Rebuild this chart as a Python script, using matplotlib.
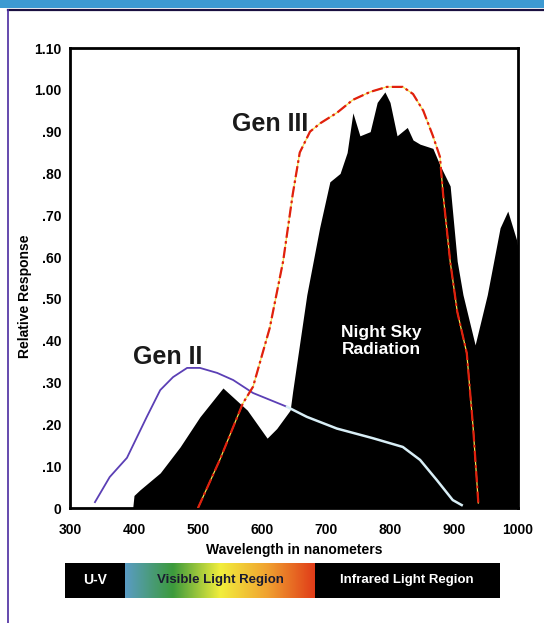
import matplotlib
matplotlib.use("Agg")
import matplotlib.pyplot as plt
import numpy as np
from matplotlib.colors import LinearSegmentedColormap

# ---- data ----
sky_nm = [398, 400, 409, 441, 472, 503, 539, 577, 608, 623, 644, 648, 670, 690, 706, 722,
          733, 742, 753, 769, 780, 792, 800, 811, 827, 836, 847, 867, 878, 894, 905, 914,
          933, 952, 972, 984, 998, 1000]
sky_val = [0.0, 0.03, 0.043, 0.084, 0.146, 0.218, 0.287, 0.234, 0.167, 0.19, 0.234, 0.28,
           0.51, 0.67, 0.78, 0.80, 0.85, 0.945, 0.89, 0.90, 0.97, 0.995, 0.97, 0.89, 0.91,
           0.88, 0.87, 0.86, 0.82, 0.77, 0.59, 0.51, 0.39, 0.51, 0.67, 0.71, 0.64, 0.62]

gen2_nm = [339, 362, 389, 420, 441, 461, 483, 503, 530, 555, 586, 639, 670, 717, 773, 820,
           847, 873, 898, 912]
gen2_val = [0.014, 0.074, 0.12, 0.218, 0.282, 0.313, 0.335, 0.335, 0.323, 0.306, 0.275,
            0.242, 0.218, 0.19, 0.167, 0.146, 0.115, 0.067, 0.019, 0.007]
gen2_split = 11  # index where the curve passes over the dark region

gen3_nm = [500, 534, 570, 586, 612, 633, 648, 659, 675, 691, 717, 742, 769, 795, 820, 836,
           852, 867, 878, 883, 894, 905, 920, 930, 938]
gen3_val = [0.0, 0.115, 0.25, 0.29, 0.43, 0.59, 0.75, 0.85, 0.90, 0.92, 0.945, 0.976, 0.995,
            1.007, 1.007, 0.99, 0.95, 0.89, 0.84, 0.75, 0.59, 0.47, 0.37, 0.19, 0.012]

xticks = [300, 400, 500, 600, 700, 800, 900, 1000]
yticks = [0, 0.1, 0.2, 0.3, 0.4, 0.5, 0.6, 0.7, 0.8, 0.9, 1.0, 1.1]
ytick_labels = ["0", ".10", ".20", ".30", ".40", ".50", ".60", ".70", ".80", ".90", "1.00", "1.10"]

bands = ["U-V", "Visible Light Region", "Infrared Light Region"]

plt.rcParams['font.family'] = ['Liberation Sans', 'DejaVu Sans']

W, H = 544, 623
fig = plt.figure(figsize=(W / 100, H / 100), dpi=100)
fig.patch.set_facecolor('white')

# outer frame decorations
fig.add_artist(plt.Rectangle((0, 1 - 8 / H), 1, 8 / H, transform=fig.transFigure,
                             color='#3d9ad2', lw=0))
fig.add_artist(plt.Line2D([8 / W, 1], [1 - 10 / H, 1 - 10 / H], transform=fig.transFigure,
                          color='#1a1040', lw=1.6))
fig.add_artist(plt.Line2D([8 / W, 8 / W], [0, 1 - 10 / H], transform=fig.transFigure,
                          color='#4a2aa0', lw=1.2))

ax = fig.add_axes([70 / W, 1 - 508 / H, (518 - 70) / W, (508 - 48) / H])
ax.set_xlim(300, 1000)
ax.set_ylim(0, 1.10)

ax.fill_between(sky_nm, 0, sky_val, color='black', lw=0, zorder=2)

# Gen II
ax.plot(gen2_nm[:gen2_split + 1], gen2_val[:gen2_split + 1], color='#5b3fb5', lw=1.3, zorder=3)
ax.plot(gen2_nm[gen2_split:], gen2_val[gen2_split:], color='#d8eef6', lw=1.8, zorder=3)

# Gen III
ax.plot(gen3_nm, gen3_val, color='#f4e04a', lw=0.9, zorder=3)
ax.plot(gen3_nm, gen3_val, color='#e0200e', lw=1.6, ls=(0, (5, 1.5, 1.2, 1.5)), zorder=4)

ax.text(612, 0.918, "Gen III", fontsize=18, fontweight='bold', color='#1a1a1a',
        ha='center', va='center', zorder=5)
ax.text(452, 0.361, "Gen II", fontsize=18, fontweight='bold', color='#1a1a1a',
        ha='center', va='center', zorder=5)
ax.text(787, 0.40, "Night Sky\nRadiation", fontsize=12.5, fontweight='bold', color='white',
        ha='center', va='center', linespacing=1.15, zorder=5)

ax.set_xticks(xticks)
ax.set_xticklabels([str(v) for v in xticks], fontsize=10, fontweight='bold')
ax.set_yticks(yticks)
ax.set_yticklabels(ytick_labels, fontsize=10, fontweight='bold')
ax.tick_params(axis='y', length=0, pad=6)
ax.tick_params(axis='x', length=0, pad=11)
for s in ax.spines.values():
    s.set_linewidth(2)
    s.set_color('black')
ax.set_xlabel("Wavelength in nanometers", fontsize=10, fontweight='bold', labelpad=4)
ax.set_ylabel("Relative Response", fontsize=10, fontweight='bold')
ax.yaxis.set_label_coords(-0.085, 0.46)

# spectrum band bar
bax = fig.add_axes([65 / W, 1 - 598 / H, (500 - 65) / W, 35 / H])
bax.axis('off')
bax.add_patch(plt.Rectangle((0, 0), 60, 1, color='black', lw=0))
cmap = LinearSegmentedColormap.from_list('vis', ['#5a9cc4', '#3c9a3c', '#f2ee3c', '#f0a030', '#e03a18'])
grad = np.linspace(0, 1, 256).reshape(1, -1)
bax.imshow(grad, extent=(60, 250, 0, 1), aspect='auto', cmap=cmap, zorder=1)
bax.add_patch(plt.Rectangle((250, 0), 185, 1, color='black', lw=0))
bax.set_xlim(0, 435)
bax.set_ylim(0, 1)
bax.text(30, 0.5, bands[0], color='white', fontsize=10, fontweight='bold', ha='center', va='center')
bax.text(155, 0.5, bands[1], color='#1a1a30', fontsize=9.5, fontweight='bold', ha='center', va='center')
bax.text(342, 0.5, bands[2], color='white', fontsize=9.5, fontweight='bold', ha='center', va='center')

fig.savefig('out.png', dpi=100)
